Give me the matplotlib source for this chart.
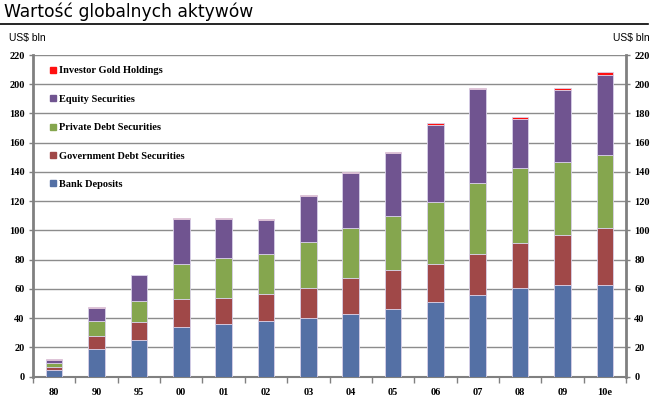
import matplotlib
matplotlib.use("Agg")
import matplotlib.pyplot as plt
from matplotlib.lines import Line2D
from matplotlib.font_manager import FontProperties
import numpy as np

lata = ["80", "90", "95", "00", "01", "02", "03", "04", "05", "06", "07", "08", "09", "10e"]
bank = [4.6, 18.5, 24.7, 33.6, 35.9, 37.7, 39.8, 42.7, 45.9, 50.7, 55.5, 60.8, 62.6, 62.6]
rzad = [1.8, 9.1, 12.8, 19.2, 17.8, 18.5, 20.6, 24.7, 26.8, 26.5, 28.6, 30.6, 34.5, 39.0]
prywatne = [2.5, 10.1, 14.1, 24.0, 27.4, 27.9, 31.6, 34.2, 37.0, 42.1, 48.4, 51.4, 50.0, 49.9]
akcje = [2.7, 8.9, 17.6, 31.0, 26.5, 22.8, 31.4, 37.8, 43.4, 53.0, 64.1, 33.3, 48.9, 55.0]
zloto = [0.7, 0.7, 0.3, 0.5, 0.7, 0.6, 0.7, 0.6, 0.4, 0.9, 1.1, 1.2, 1.2, 1.6]

serie = [
    ("Bank Deposits", bank, "#5470a5"),
    ("Government Debt Securities", rzad, "#a04848"),
    ("Private Debt Securities", prywatne, "#85a64e"),
    ("Equity Securities", akcje, "#705490"),
    ("Investor Gold Holdings", zloto, "#ff1010"),
]

fig = plt.figure(figsize=(6.59, 4.05), dpi=100)
W, H = 659, 405
# pozycja osi w pikselach: lewo 33, prawo 626, góra 55, dół 376.5
ax = fig.add_axes([33 / W, 1 - 376.5 / H, (626 - 33) / W, (376.5 - 55) / H])

x = np.arange(len(lata))
dol = np.zeros(len(lata))
for nazwa, wart, kolor in serie:
    ax.bar(x, wart, bottom=dol, width=0.39, color=kolor, edgecolor="#d8d0e8",
           linewidth=0.6, zorder=3)
    dol += np.array(wart)

ax.set_xlim(-0.5, len(lata) - 0.5)
ax.set_ylim(0, 220)
ax.set_yticks(np.arange(0, 221, 20))
ax.yaxis.grid(True, color="#8c8c8c", linewidth=1, zorder=0)
ax.set_axisbelow(True)

serif_b = dict(family="Liberation Serif", weight="bold", size=7.5)
ax.set_xticks(x)
ax.set_xticklabels(lata, fontdict=serif_b)
ax.set_xticks(np.arange(-0.5, len(lata), 1), minor=True)
ax.tick_params(axis="x", which="major", length=0, pad=8)
ax.tick_params(axis="x", which="minor", length=4, color="#808080", width=1)
ax.tick_params(axis="y", length=3, color="#808080", width=1, pad=3,
               left=True, right=True, labelleft=True, labelright=True)
for t in ax.yaxis.get_major_ticks():
    t.label1.set_fontproperties(FontProperties(**serif_b))
    t.label2.set_fontproperties(FontProperties(**serif_b))

for s in ["left", "right"]:
    ax.spines[s].set_color("#808080")
    ax.spines[s].set_linewidth(2)
ax.spines["bottom"].set_color("#808080")
ax.spines["bottom"].set_linewidth(1.5)
ax.spines["top"].set_visible(False)

uchwyty = [Line2D([], [], marker="s", linestyle="none", markersize=5,
                  markerfacecolor=k, markeredgecolor=k) for _, _, k in serie[::-1]]
etykiety = [n for n, _, _ in serie[::-1]]
ax.legend(uchwyty, etykiety, loc="upper left",
          bbox_to_anchor=((50 - 33) / 593, 1 - (66 - 55) / 321.5),
          frameon=False, prop=dict(family="Liberation Serif", weight="bold", size=7.5),
          handlelength=0.6, handletextpad=0.25, labelspacing=1.84, borderpad=0,
          borderaxespad=0)

fig.text(4 / W, 1 - 12 / H, "Wartość globalnych aktywów", fontsize=12.3,
         family="DejaVu Sans", va="center", ha="left")
fig.add_artist(Line2D([0, 648 / W], [1 - 24 / H, 1 - 24 / H], color="black",
                      linewidth=1.2))
fig.text(9 / W, 1 - 38 / H, "US$ bln", fontsize=7.5, family="Liberation Sans",
         va="center", ha="left")
fig.text(650 / W, 1 - 38 / H, "US$ bln", fontsize=7.5, family="Liberation Sans",
         va="center", ha="right")

fig.savefig("out.png", dpi=100)
